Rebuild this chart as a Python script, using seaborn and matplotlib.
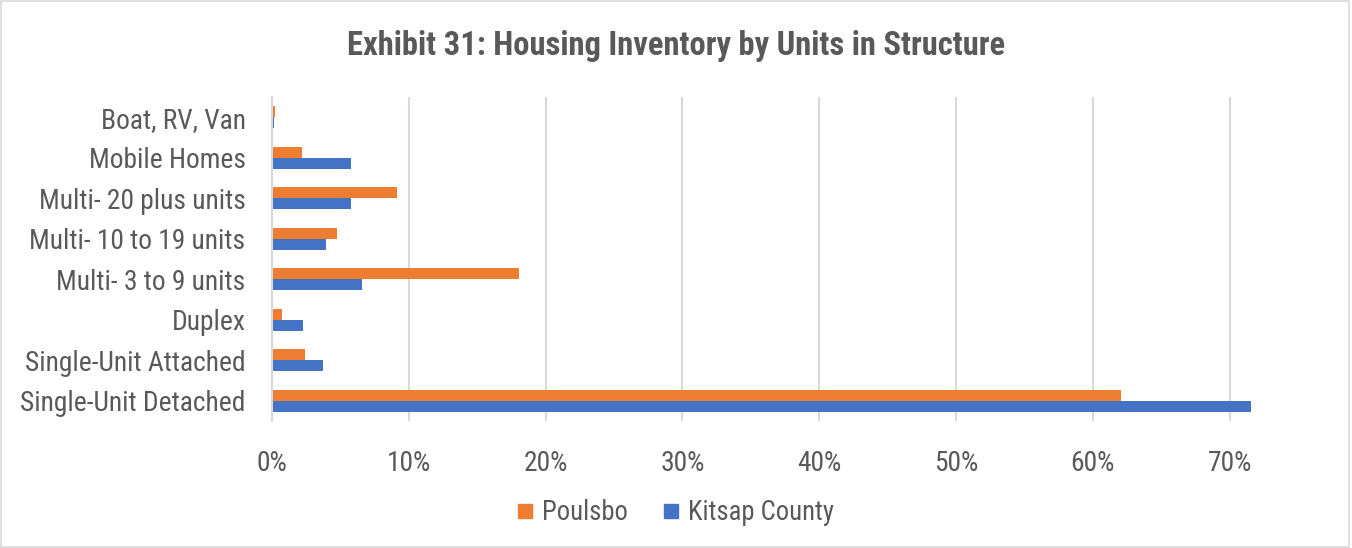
import seaborn as sns
import matplotlib.pyplot as plt
import matplotlib.ticker as mtick
from matplotlib.lines import Line2D
from matplotlib import font_manager
import pandas as pd

# DATA
categories = ['Boat, RV, Van', 'Mobile Homes', 'Multi- 20 plus units', 'Multi- 10 to 19 units',
              'Multi- 3 to 9 units', 'Duplex', 'Single-Unit Attached', 'Single-Unit Detached']
poulsbo = [0.25, 2.2, 9.15, 4.77, 18.07, 0.75, 2.43, 62.06]
kitsap = [0.17, 5.75, 5.75, 3.97, 6.55, 2.24, 3.75, 71.57]
series = ['Poulsbo', 'Kitsap County']
colors = ['#ED7D31', '#4472C4']

df = pd.DataFrame({
    'Category': categories * 2,
    'Share': [v / 100 for v in poulsbo + kitsap],
    'Area': [series[0]] * len(categories) + [series[1]] * len(categories),
})

sns.set_style('white')
installed = {f.name for f in font_manager.fontManager.ttflist}
narrow = [f for f in ['Roboto Condensed', 'Liberation Sans Narrow', 'Arial Narrow'] if f in installed]
plt.rcParams['font.family'] = narrow + ['Roboto', 'DejaVu Sans']
txt = '#595959'

fig = plt.figure(figsize=(13.52, 5.48), dpi=100)
ax = fig.add_axes([272 / 1352, 1 - 421 / 548, (1257 - 272) / 1352, (421 - 97) / 548])

sns.barplot(data=df, x='Share', y='Category', hue='Area', order=categories,
            hue_order=series, palette=colors, orient='h', width=0.54,
            saturation=1, legend=False, linewidth=0, ax=ax)

ax.set_xlim(0, 0.72)
ax.set_xticks([i / 10 for i in range(8)])
ax.xaxis.set_major_formatter(mtick.PercentFormatter(1.0, decimals=0))
ax.grid(axis='x', color='#D9D9D9', linewidth=1.5)
ax.set_axisbelow(True)
for s in ['top', 'right', 'bottom']:
    ax.spines[s].set_visible(False)
ax.spines['left'].set_color('#D9D9D9')
ax.spines['left'].set_linewidth(1.5)
ax.set_xlabel('')
ax.set_ylabel('')
fs = 19.8 if narrow else 15
ax.tick_params(axis='x', labelsize=fs, colors=txt, length=0, pad=21)
ax.tick_params(axis='y', labelsize=fs, colors=txt, length=0, pad=19)

fig.text(0.5, 1 - 46 / 548, 'Exhibit 31: Housing Inventory by Units in Structure',
         ha='center', va='center', fontsize=23.5 if narrow else 19, fontweight='bold', color=txt)

handles = [Line2D([0], [0], marker='s', linestyle='', markersize=10.5,
                  markerfacecolor=c, markeredgecolor=c) for c in colors]
fig.legend(handles, series, loc='center', bbox_to_anchor=(0.5, 1 - 513 / 548),
           ncol=2, frameon=False, fontsize=19.2 if narrow else 15, labelcolor=txt,
           handlelength=0.55, handletextpad=0.35, columnspacing=1.35)

fig.patches.append(plt.Rectangle((0.001, 0.002), 0.997, 0.996, transform=fig.transFigure,
                                 fill=False, edgecolor='#D9D9D9', linewidth=1.2))

fig.savefig('out.png', dpi=100, facecolor='white')
